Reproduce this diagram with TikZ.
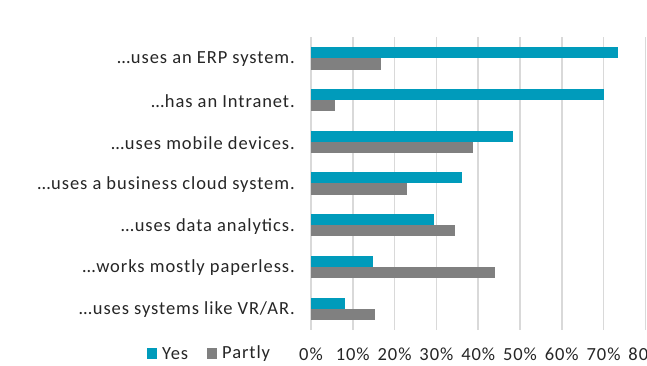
\documentclass[tikz,border=0pt]{standalone}
\usepackage{fontspec}
\setmainfont{Carlito}[LetterSpace=5]
\definecolor{yescol}{RGB}{0,155,187}
\definecolor{partcol}{RGB}{128,128,128}
\definecolor{gridcol}{RGB}{217,217,217}
\definecolor{txtcol}{RGB}{38,38,38}
\begin{document}
\begin{tikzpicture}[x=1pt,y=-1pt,
  gridline/.style={draw=gridcol,line width=1.5pt},
  yesbar/.style={fill=yescol},
  partbar/.style={fill=partcol},
  cat/.style={anchor=east,inner sep=0pt,text=txtcol,font=\fontsize{18.5}{22}\selectfont},
  tick/.style={anchor=center,inner sep=0pt,text=txtcol,font=\fontsize{18.5}{22}\selectfont},
  leg/.style={anchor=west,inner sep=0pt,text=txtcol,font=\fontsize{18.5}{22}\selectfont}]
\useasboundingbox (0,0) rectangle (647,365);
\fill[white] (0,0) rectangle (647,365);
% grid
\foreach \i in {0,...,8} {
  \draw[gridline] ({311+41.8*\i},37) -- ({311+41.8*\i},330);
}
% bars
\foreach \r/\y/\p/\t in {0/73.4/16.7/{…uses an ERP system.},
                          1/70.2/5.8/{…has an Intranet.},
                          2/48.3/38.8/{…uses mobile devices.},
                          3/36.2/23.0/{…uses a business cloud system.},
                          4/29.4/34.4/{…uses data analytics.},
                          5/14.9/43.9/{…works mostly paperless.},
                          6/8.1/15.4/{…uses systems like VR/AR.}} {
  \pgfmathsetmacro{\top}{47.3+41.7*\r}
  \fill[yesbar] (311,\top) rectangle ({311+4.18*\y},{\top+11});
  \fill[partbar] (311,{\top+11}) rectangle ({311+4.18*\p},{\top+22.3});
  \node[cat] (c\r) at (295,{\top+12}) {\t};
}
% ticks
\foreach \i in {0,...,8} {
  \pgfmathtruncatemacro{\v}{10*\i}
  \node[tick] (t\i) at ({311+41.8*\i},354) {\v\%};
}
% legend
\fill[yescol] (147,348) rectangle (157,359);
\node[leg] (ly) at (162,354) {Yes};
\fill[partcol] (207,348) rectangle (217,359);
\node[leg] (lp) at (222,354) {Partly};
\end{tikzpicture}
\end{document}
